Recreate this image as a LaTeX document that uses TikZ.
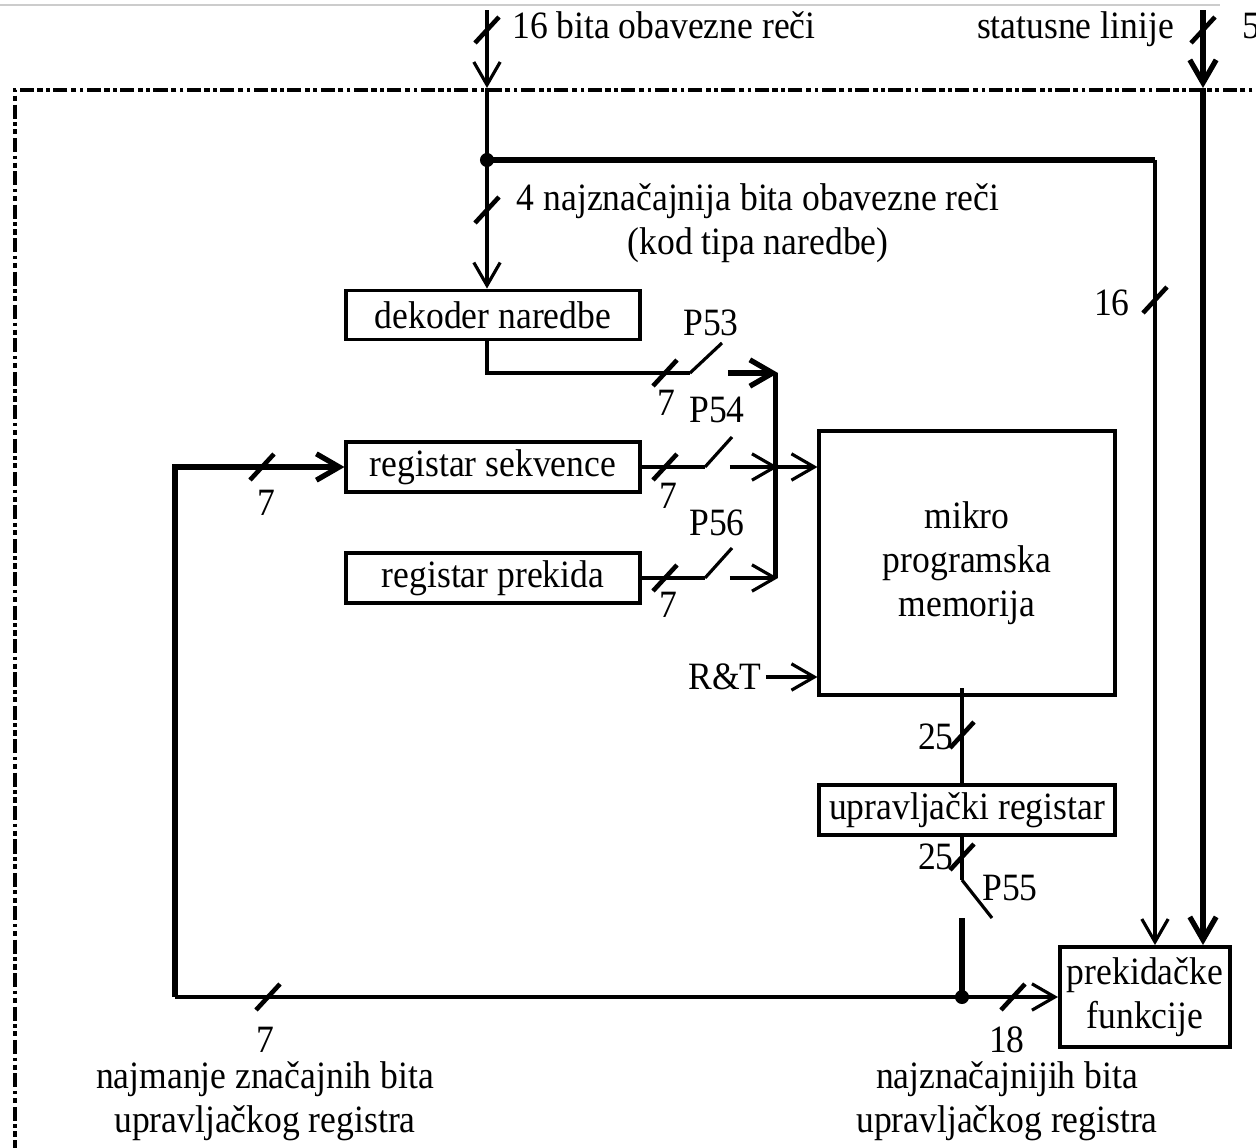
\documentclass[tikz,border=0pt]{standalone}
\usepackage{fontspec}
\setmainfont{Liberation Serif}[FakeStretch=0.92]
\usepackage{tikz}
\usetikzlibrary{arrows.meta}
\def\bmark#1{\draw[slashline] (#1) ++(-12,13) -- ++(24,-26);}

\begin{document}
\begin{tikzpicture}[x=0.01cm,y=-0.01cm,
  >={Straight Barb[length=6.5pt,width=7.5pt]},
  every node/.style={font=\fontsize{11}{12.5}\selectfont, inner sep=1pt},
  blk/.style={draw, line width=1.1pt, minimum width=2.93cm, minimum height=0.49cm, inner sep=2pt},
  conn/.style={line width=0.9pt},
  heavy/.style={line width=1.5pt},
  slashline/.style={line width=1.3pt},
  frameline/.style={line width=1.1pt, dash pattern=on 4pt off 1pt on 1pt off 1pt on 1.5pt off 1pt}]
\useasboundingbox (0,0) rectangle (1256,1148);
\draw[gray!40,line width=0.6pt] (0,5) -- (1220,5);
\draw[frameline] (1270,90) -- (15,90) -- (15,1160);

\node[blk] (dek) at (493,315) {dekoder naredbe};
\node[blk] (sek) at (493,467) {registar sekvence};
\node[blk] (prek) at (493,578) {registar prekida};
\node[blk, minimum width=2.95cm, minimum height=2.63cm, align=center] (mpm) at (967,563) {mikro\\programska\\memorija};
\node[blk, minimum width=2.95cm] (ur) at (967,810) {upravljački registar};
\node[blk, minimum width=1.65cm, minimum height=1cm, align=center] (pf) at (1145,997) {prekidačke\\funkcije};

\coordinate (in16) at (487,10);
\coordinate (f16) at (487,88);
\coordinate (j1) at (487,160);
\coordinate (c16) at (1155,160);
\coordinate (in5) at (1203,10);
\coordinate (f5) at (1203,88);
\draw[conn,->] (in16) -- (f16);
\draw[conn,->] (f16) -- (j1 |- dek.north);
\draw[heavy] (j1) -- (c16);
\draw[conn,->] (c16) -- (c16 |- pf.north);
\fill (j1) circle (2pt);
\draw[heavy,->] (in5) -- (f5);
\draw[heavy,->] (f5) -- (f5 |- pf.north);
\bmark{487,30}
\bmark{487,210}
\bmark{1203,30}
\bmark{1155,300}
\node[anchor=base west] (t16) at (508,38) {16 bita obavezne reči};
\node[anchor=base east] (tst) at (1178,38) {statusne linije};
\node[anchor=base west] (t5) at (1238,38) {5};
\node[align=center] (tkod) at (758,223) {4 najznačajnija bita obavezne reči\\(kod tipa naredbe)};
\node (t16b) at (1112,303) {16};

\coordinate (p53) at (690,373);
\coordinate (a53) at (728,373);
\coordinate (bus1) at (778,373);
\coordinate (p54) at (705,467);
\coordinate (a54) at (730,467);
\coordinate (p56) at (705,578);
\coordinate (a56) at (730,578);
\draw[conn] (dek.south -| j1) |- (p53);
\draw[conn] (p53) -- ++(32,-30);
\draw[heavy,->] (a53) -- (bus1);
\draw[conn] (sek.east) -- (p54);
\draw[conn] (p54) -- ++(27,-30);
\draw[conn,->] (a54) -- (bus1 |- a54);
\draw[conn] (prek.east) -- (p56);
\draw[conn] (p56) -- ++(27,-30);
\draw[conn,->] (a56) -- (bus1 |- a56);
\draw[heavy] ([xshift=-0.7pt]bus1) -- ([xshift=-0.7pt]bus1 |- a56);
\draw[conn,->] (bus1 |- p54) -- (mpm.west |- p54);
\bmark{665,373}
\bmark{665,467}
\bmark{665,578}
\node (n53) at (666,403) {7};
\node (n54) at (668,496) {7};
\node (n56) at (668,605) {7};
\node (l53) at (711,323) {P53};
\node (l54) at (717,410) {P54};
\node (l56) at (717,523) {P56};

\node (rt) at (725,677) {R\&T};
\draw[conn,->] (rt.east) -- (mpm.west |- rt);

\coordinate (m1) at (962,688);
\coordinate (p55) at (962,880);
\coordinate (s55) at (962,918);
\coordinate (j2) at (962,997);
\draw[conn] (m1) -- (m1 |- ur.north);
\draw[conn] (p55 |- ur.south) -- (p55);
\draw[conn] (p55) -- ++(30,38);
\draw[heavy] (s55) -- (j2);
\fill (j2) circle (2pt);
\bmark{962,735}
\bmark{962,857}
\node[anchor=east] (n25a) at (958,737) {25};
\node[anchor=east] (n25b) at (958,857) {25};
\node (l55) at (1010,888) {P55};

\coordinate (fb1) at (175,997);
\draw[heavy,->] (fb1) |- (sek.west);
\draw[conn,->] (fb1) -- (pf.west |- fb1);
\bmark{262,467}
\bmark{268,997}
\bmark{1013,997}
\node (n7s) at (266,503) {7};
\node (n7b) at (265,1040) {7};
\node (n18) at (1007,1040) {18};
\node[align=center] (lsb) at (265,1101) {najmanje značajnih bita\\upravljačkog registra};
\node[align=center] (msb) at (1007,1101) {najznačajnijih bita\\upravljačkog registra};
\end{tikzpicture}
\end{document}
